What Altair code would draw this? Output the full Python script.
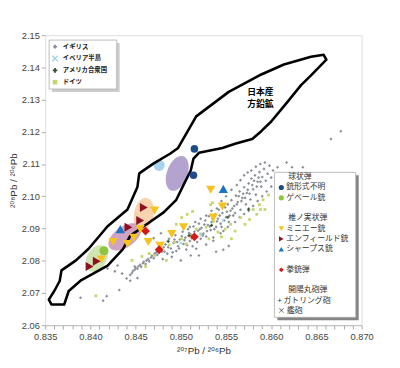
import math
import altair as alt
import pandas as pd

# ---------------- axes ----------------
x_domain = [0.835, 0.870]
y_domain = [2.06, 2.15]
x_ticks = [round(0.835 + 0.001 * i, 3) for i in range(36)]
y_ticks = [2.06, 2.07, 2.08, 2.09, 2.10, 2.11, 2.12, 2.13, 2.14, 2.15]
x_title = "²⁰⁷Pb / ²⁰⁶Pb"
y_title = "²⁰⁸Pb / ²⁰⁶Pb"

# ---------------- Japanese galena field (hand-drawn outline) ----------------
outline_x = [0.8357, 0.8354, 0.8360, 0.8366, 0.8368, 0.8384, 0.8398, 0.8419, 0.8441,
             0.8452, 0.8454, 0.8470, 0.8488, 0.8497, 0.8517, 0.8553, 0.8589, 0.8614,
             0.8644, 0.8658, 0.8661, 0.8644, 0.8633, 0.8618, 0.8600, 0.8589, 0.8579,
             0.8560, 0.8546, 0.8520, 0.8514, 0.8511, 0.8504, 0.8495, 0.8481, 0.8459,
             0.8444, 0.8436, 0.8419, 0.8390, 0.8376, 0.8371]
outline_y = [2.0664, 2.0679, 2.0706, 2.0737, 2.0770, 2.0801, 2.0837, 2.0907, 2.0959,
             2.1029, 2.1071, 2.1102, 2.1132, 2.1150, 2.1248, 2.1324, 2.1378, 2.1409,
             2.1433, 2.1439, 2.1424, 2.1375, 2.1345, 2.1293, 2.1232, 2.1202, 2.1178,
             2.1163, 2.1150, 2.1135, 2.1117, 2.1080, 2.1041, 2.0989, 2.0950, 2.0907,
             2.0877, 2.0836, 2.0785, 2.0740, 2.0706, 2.0664]
galena_lines = ["日本産", "方鉛鉱"]
galena_x = [0.8588, 0.8588]
galena_y = [2.1325, 2.1286]

# ---------------- background ores ----------------
uk_pts = [
    (0.8389, 2.0685), (0.8414, 2.0676), (0.8418, 2.0690), (0.8432, 2.0709), (0.8419, 2.0776),
    (0.8427, 2.0767), (0.8435, 2.0760), (0.8440, 2.0745), (0.8444, 2.0738), (0.8452, 2.0746),
    (0.8430, 2.0785), (0.8449, 2.0782),
    (0.8444, 2.0756), (0.8446, 2.0762), (0.8447, 2.0768), (0.8449, 2.0772), (0.8450, 2.0778),
    (0.8452, 2.0775), (0.8453, 2.0783), (0.8455, 2.0787), (0.8456, 2.0781), (0.8458, 2.0792),
    (0.8459, 2.0797), (0.8461, 2.0790), (0.8462, 2.0801), (0.8464, 2.0805), (0.8465, 2.0798),
    (0.8467, 2.0810), (0.8468, 2.0815), (0.8470, 2.0808), (0.8471, 2.0822), (0.8473, 2.0826),
    (0.8474, 2.0818), (0.8476, 2.0831), (0.8478, 2.0836), (0.8479, 2.0828), (0.8481, 2.0842),
    (0.8470, 2.0870), (0.8478, 2.0885), (0.8466, 2.0862),
    (0.8480, 2.0805), (0.8483, 2.0850), (0.8485, 2.0822), (0.8487, 2.0868), (0.8489, 2.0838),
    (0.8490, 2.0812), (0.8492, 2.0855), (0.8494, 2.0879), (0.8495, 2.0830), (0.8497, 2.0845),
    (0.8499, 2.0866), (0.8500, 2.0801), (0.8502, 2.0890), (0.8503, 2.0852), (0.8505, 2.0872),
    (0.8506, 2.0835), (0.8508, 2.0898), (0.8510, 2.0861), (0.8511, 2.0882), (0.8513, 2.0845),
    (0.8514, 2.0906), (0.8516, 2.0874), (0.8517, 2.0837), (0.8519, 2.0893), (0.8520, 2.0915),
    (0.8522, 2.0868), (0.8523, 2.0902), (0.8525, 2.0884), (0.8527, 2.0925), (0.8528, 2.0850),
    (0.8530, 2.0911), (0.8531, 2.0938), (0.8533, 2.0895), (0.8534, 2.0920), (0.8536, 2.0872),
    (0.8538, 2.0944), (0.8539, 2.0905), (0.8541, 2.0930), (0.8542, 2.0958), (0.8544, 2.0915),
    (0.8546, 2.0948), (0.8547, 2.0892), (0.8549, 2.0965), (0.8550, 2.0935), (0.8552, 2.0975),
    (0.8553, 2.0920), (0.8555, 2.0955), (0.8556, 2.0988), (0.8558, 2.0940), (0.8559, 2.0970),
    (0.8482, 2.0828), (0.8486, 2.0842), (0.8491, 2.0826), (0.8493, 2.0866), (0.8496, 2.0858),
    (0.8498, 2.0838), (0.8501, 2.0876), (0.8504, 2.0864), (0.8507, 2.0848), (0.8509, 2.0886),
    (0.8512, 2.0870), (0.8515, 2.0890), (0.8518, 2.0858), (0.8521, 2.0898), (0.8524, 2.0878),
    (0.8526, 2.0912), (0.8529, 2.0892), (0.8532, 2.0906), (0.8535, 2.0930), (0.8537, 2.0898),
    (0.8540, 2.0922), (0.8543, 2.0940), (0.8545, 2.0905), (0.8548, 2.0925), (0.8551, 2.0952),
    (0.8554, 2.0940), (0.8557, 2.0962), (0.8560, 2.0948), (0.8562, 2.0975), (0.8564, 2.1000),
    (0.8567, 2.0985), (0.8569, 2.1008), (0.8571, 2.0995), (0.8574, 2.1020), (0.8576, 2.1008),
    (0.8579, 2.1035), (0.8581, 2.1048), (0.8584, 2.1030), (0.8586, 2.1058), (0.8588, 2.1045),
    (0.8561, 2.1002), (0.8563, 2.0982), (0.8565, 2.1015), (0.8566, 2.0958), (0.8568, 2.0995),
    (0.8570, 2.1028), (0.8572, 2.0975), (0.8573, 2.1010), (0.8575, 2.1040), (0.8577, 2.0990),
    (0.8578, 2.1055), (0.8580, 2.1022), (0.8582, 2.1065), (0.8583, 2.1005), (0.8585, 2.1045),
    (0.8587, 2.1075), (0.8589, 2.1030), (0.8590, 2.1060), (0.8592, 2.1085), (0.8594, 2.1048),
    (0.8596, 2.1070), (0.8598, 2.1095), (0.8600, 2.1058), (0.8602, 2.1080), (0.8607, 2.1090),
    (0.8617, 2.1105), (0.8623, 2.1090), (0.8635, 2.1090), (0.8666, 2.1178), (0.8677, 2.1202),
    (0.8539, 2.0828), (0.8547, 2.0834), (0.8553, 2.0846), (0.8520, 2.0816), (0.8511, 2.0816),
    (0.8545, 2.0985), (0.8550, 2.1000), (0.8556, 2.1020), (0.8562, 2.1035), (0.8566, 2.1050),
    (0.8570, 2.1065), (0.8574, 2.1074), (0.8578, 2.1080), (0.8583, 2.1092), (0.8588, 2.1100),
    (0.8593, 2.1105), (0.8540, 2.0962), (0.8534, 2.0955), (0.8528, 2.0940), (0.8522, 2.0930),
    (0.8516, 2.0920), (0.8510, 2.0905), (0.8560, 2.0920), (0.8565, 2.0935), (0.8570, 2.0945),
    (0.8575, 2.0955), (0.8580, 2.0970), (0.8585, 2.0985), (0.8590, 2.1000), (0.8595, 2.1015),
    (0.8600, 2.1030), (0.8552, 2.0905), (0.8544, 2.0885), (0.8536, 2.0862), (0.8528, 2.0875),
]
de_pts = [
    (0.8406, 2.0691), (0.8446, 2.0801), (0.8457, 2.0813), (0.8465, 2.0822), (0.8471, 2.0816),
    (0.8479, 2.0837), (0.8487, 2.0849), (0.8493, 2.0858), (0.8501, 2.0868), (0.8506, 2.0852),
    (0.8511, 2.0877), (0.8517, 2.0898), (0.8522, 2.0883), (0.8528, 2.0904), (0.8531, 2.0868),
    (0.8536, 2.0922), (0.8541, 2.0889), (0.8545, 2.0874), (0.8549, 2.0898), (0.8555, 2.0913),
    (0.8560, 2.0892), (0.8556, 2.0868), (0.8566, 2.0934), (0.8571, 2.0913), (0.8576, 2.0928),
    (0.8580, 2.0959), (0.8584, 2.0944), (0.8587, 2.0974), (0.8591, 2.0989), (0.8593, 2.0959),
    (0.8507, 2.0944), (0.8513, 2.0953), (0.8501, 2.0934), (0.8495, 2.0913), (0.8535, 2.0980),
    (0.8533, 2.0974), (0.8588, 2.0959), (0.8597, 2.1004), (0.8484, 2.0801), (0.8461, 2.0782),
]
us_pts = [(0.8486, 2.0860), (0.8509, 2.0878), (0.8534, 2.0910), (0.8552, 2.0935), (0.8575, 2.0960)]
iberia_pts = [(0.8500, 2.0855), (0.8523, 2.0880), (0.8547, 2.0925)]

# ---------------- shaded groups (ellipses) ----------------
ell_x = [0.8496, 0.8459, 0.8438, 0.8407, 0.8476]
ell_y = [2.1071, 2.0944, 2.0874, 2.0807, 2.1096]
ell_color = ["#b4a3cf", "#f8d3ae", "#cfa3c4", "#cfe5b4", "#a8d4ef"]
ell_major = [37, 34, 38, 29, 13]
ell_minor = [21, 20, 21, 20, 13]
ell_angle = [20, 10, 55, 30, 0]

# ---------------- bullets ----------------
minie_x = [0.8533, 0.8546, 0.8536, 0.8503, 0.8490, 0.8477, 0.8464, 0.8471, 0.8455, 0.8448, 0.8425, 0.8412, 0.8441]
minie_y = [2.1020, 2.0968, 2.0934, 2.0904, 2.0883, 2.0846, 2.0858, 2.0956, 2.0898, 2.0871, 2.0858, 2.0804, 2.0852]
enfield_x = [0.8459, 0.8455, 0.8442, 0.8399, 0.8407]
enfield_y = [2.0965, 2.0925, 2.0904, 2.0782, 2.0798]
sharps_x = [0.8547, 0.8433]
sharps_y = [2.1023, 2.0898]
pistol_x = [0.8515, 0.8461, 0.8476]
pistol_y = [2.0874, 2.0892, 2.0834]
unknown_x = [0.8515, 0.8514]
unknown_y = [2.1147, 2.1065]
geweer_x = [0.8415]
geweer_y = [2.0831]

legend1_labels = ["イギリス", "イベリア半島", "アメリカ合衆国", "ドイツ"]
legend2_labels = ["球状弾", "銃形式不明", "ゲベール銃", "", "椎ノ実状弾", "ミニエー銃",
                  "エンフィールド銃", "シャープス銃", "", "拳銃弾", "", "開陽丸砲弾",
                  "+ ガトリング砲", "× 艦砲"]

# ---------------- helpers ----------------
FONT = "Liberation Sans, DejaVu Sans"
JP = "Noto Sans CJK JP"
xs = alt.Scale(domain=x_domain, nice=False, zero=False)
ys = alt.Scale(domain=y_domain, nice=False, zero=False)
xaxis = alt.Axis(values=x_ticks, labelExpr="round(datum.value*1000) % 5 == 0 ? format(datum.value, '.3f') : ''",
                 labelOverlap=False, labelFlush=False, grid=False, tickSize=4, tickColor="#aaa",
                 domainColor="#bbb", labelFontSize=9.5, labelColor="#444", labelFont=FONT,
                 title=x_title, titleFont=FONT, titleFontSize=10, titleFontWeight="normal",
                 titleColor="#333", titlePadding=4, labelPadding=3)
yaxis = alt.Axis(values=y_ticks, format=".2f", labelFlush=False, labelOverlap=False, grid=False,
                 tickSize=4, tickColor="#aaa", domain=False, labelFontSize=9.5, labelColor="#444",
                 labelFont=FONT, title=y_title, titleFont=FONT, titleFontSize=10,
                 titleFontWeight="normal", titleColor="#333", titlePadding=3, labelPadding=2)
X = alt.X("x:Q", scale=xs, axis=xaxis)
Y = alt.Y("y:Q", scale=ys, axis=yaxis)


def pts_df(pairs):
    return pd.DataFrame({"x": [p[0] for p in pairs], "y": [p[1] for p in pairs]})


def xy_df(xv, yv):
    return pd.DataFrame({"x": xv, "y": yv})


def ellipse_path(ratio):
    parts = []
    for k in range(40):
        t = 2 * math.pi * k / 40
        parts.append(f"{ratio * math.cos(t):.3f},{math.sin(t):.3f}")
    return "M" + "L".join(parts) + "Z"


layers = []
# background ores
layers.append(alt.Chart(pts_df(uk_pts)).mark_point(shape="diamond", filled=True, size=10, color="#8b8f98", opacity=1).encode(x=X, y=Y))
layers.append(alt.Chart(pts_df(de_pts)).mark_point(shape="square", filled=True, size=8, color="#c6d66c", opacity=1).encode(x=X, y=Y))
layers.append(alt.Chart(pts_df(us_pts)).mark_point(shape="cross", filled=True, size=10, color="#35552e", opacity=1).encode(x=X, y=Y))
layers.append(alt.Chart(pts_df(iberia_pts)).mark_point(shape="M-1,-1L1,1M1,-1L-1,1", filled=False, size=12, strokeWidth=1, color="#8ecbe8", opacity=1).encode(x=X, y=Y))

# ellipses
for i in range(len(ell_x)):
    df = xy_df([ell_x[i]], [ell_y[i]])
    if ell_major[i] == ell_minor[i]:
        m = alt.Chart(df).mark_point(shape="circle", filled=True, size=math.pi * (ell_major[i] / 2) ** 2, color=ell_color[i], opacity=1)
    else:
        m = alt.Chart(df).mark_point(shape=ellipse_path(ell_minor[i] / ell_major[i]), filled=True, size=ell_major[i] ** 2, angle=ell_angle[i], color=ell_color[i], opacity=1)
    layers.append(m.encode(x=X, y=Y))

# outline
odf = pd.DataFrame({"x": outline_x + [outline_x[0]], "y": outline_y + [outline_y[0]], "o": list(range(len(outline_x) + 1))})
layers.append(alt.Chart(odf).mark_line(color="black", strokeWidth=2.6, strokeJoin="round", strokeCap="round").encode(x=X, y=Y, order="o:Q"))
gdf = pd.DataFrame({"x": galena_x, "y": galena_y, "t": galena_lines})
layers.append(alt.Chart(gdf).mark_text(font=JP, fontSize=9, fontWeight="bold", color="black", align="center", baseline="middle").encode(x=X, y=Y, text="t:N"))

# bullets
layers.append(alt.Chart(xy_df(geweer_x, geweer_y)).mark_point(shape="circle", filled=True, size=85, color="#8cc63f", opacity=1).encode(x=X, y=Y))
layers.append(alt.Chart(xy_df(minie_x, minie_y)).mark_point(shape="triangle-down", filled=True, size=90, color="#f6c31d", opacity=1).encode(x=X, y=Y))
layers.append(alt.Chart(xy_df(enfield_x, enfield_y)).mark_point(shape="triangle-right", filled=True, size=85, color="#8c1020", opacity=1).encode(x=X, y=Y))
layers.append(alt.Chart(xy_df(sharps_x, sharps_y)).mark_point(shape="triangle-up", filled=True, size=90, color="#1b74c2", opacity=1).encode(x=X, y=Y))
layers.append(alt.Chart(xy_df(pistol_x, pistol_y)).mark_point(shape="diamond", filled=True, size=80, color="#d41a1a", opacity=1).encode(x=X, y=Y))
layers.append(alt.Chart(xy_df(unknown_x, unknown_y)).mark_point(shape="circle", filled=True, size=60, color="#1d4c8a", opacity=1).encode(x=X, y=Y))

# ---------------- legends (drawn) ----------------
dummy = pd.DataFrame({"a": [0]})


def box(x1, y1, x2, y2, shadow):
    return [
        alt.Chart(dummy).mark_rect(color=shadow, opacity=0.9).encode(x=alt.value(x1 + 3), x2=alt.value(x2 + 3), y=alt.value(y1 + 3), y2=alt.value(y2 + 3)),
        alt.Chart(dummy).mark_rect(fill="white", stroke="#aaa", strokeWidth=0.8).encode(x=alt.value(x1), x2=alt.value(x2), y=alt.value(y1), y2=alt.value(y2)),
    ]


def sym(px, py, **kw):
    return alt.Chart(dummy).mark_point(opacity=1, **kw).encode(x=alt.value(px), y=alt.value(py))


def txt(px, py, label, **kw):
    return alt.Chart(dummy).mark_text(text=label, align="left", baseline="middle", font=JP, **kw).encode(x=alt.value(px), y=alt.value(py))


layers += box(4, 5, 73, 55, "#c8c8c8")
l1_syms = [
    dict(shape="diamond", filled=True, size=22, color="#8b8f98"),
    dict(shape="M-1,-1L1,1M1,-1L-1,1", filled=False, size=30, strokeWidth=1.3, color="#9fd3ec"),
    dict(shape="cross", filled=True, size=22, color="#35552e"),
    dict(shape="square", filled=True, size=22, color="#c6d66c"),
]
for i, lab in enumerate(legend1_labels):
    py = 11.7 + 12.1 * i
    layers.append(sym(10, py, **l1_syms[i]))
    layers.append(txt(18, py, lab, fontSize=6.5, fontWeight="bold", color="#222"))

layers += box(234, 140, 317, 288, "#777")
l2_syms = {
    1: dict(shape="circle", filled=True, size=28, color="#1d4c8a"),
    2: dict(shape="circle", filled=True, size=28, color="#8cc63f"),
    5: dict(shape="triangle-down", filled=True, size=30, color="#f6c31d"),
    6: dict(shape="triangle-right", filled=True, size=30, color="#8c1020"),
    7: dict(shape="triangle-up", filled=True, size=30, color="#1b74c2"),
    9: dict(shape="diamond", filled=True, size=24, color="#d41a1a"),
}
headers = {0, 4, 11}
for i, lab in enumerate(legend2_labels):
    if not lab:
        continue
    py = 145 + 10.5 * i
    if i in l2_syms:
        layers.append(sym(241, py, **l2_syms[i]))
        layers.append(txt(246, py, lab, fontSize=8, color="#333"))
    elif i in headers:
        layers.append(txt(248, py, lab, fontSize=8, color="#333"))
    else:
        layers.append(txt(237, py, lab, fontSize=8, color="#333"))

chart = alt.layer(*layers).properties(
    width=323, height=296,
    autosize=alt.AutoSizeParams(type="none"),
    padding={"left": 38, "top": 24, "right": 31, "bottom": 40},
).configure_view(stroke="#dcdcdc").configure(background="white")

chart.save("out.html", embed_options={"renderer": "svg", "actions": False})
